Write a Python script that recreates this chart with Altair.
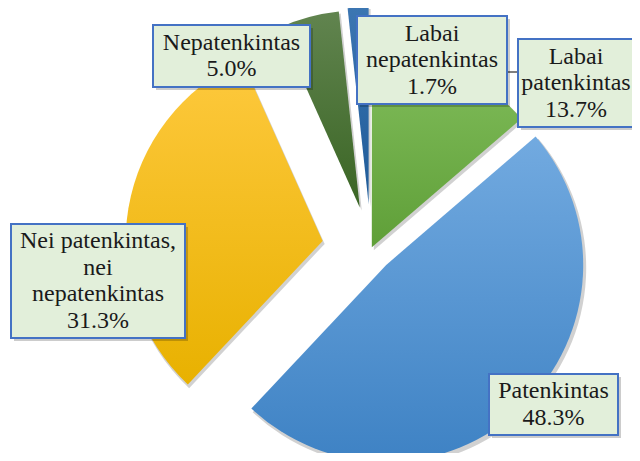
import altair as alt
import pandas as pd

# ---- data (clockwise from 12 o'clock) ----
categories = ["Labai patenkintas", "Patenkintas", "Nei patenkintas, nei nepatenkintas",
              "Nepatenkintas", "Labai nepatenkintas"]
shares = [13.7, 48.3, 31.3, 5.0, 1.7]

# ---- label text (manual line breaks, as in the original) ----
label_names = ["Labai\npatenkintas", "Patenkintas", "Nei patenkintas,\nnei\nnepatenkintas",
               "Nepatenkintas", "Labai\nnepatenkintas"]

# ---- style / layout ----
explode = [2, 22, 49, 43, 45]          # px each slice is pulled out
CX, CY, R = 363, 241, 197              # pie centre and radius (chart px)
FONT_SIZE, LINE_H = 24, 26.5
gradients = [
    ("#82be5c", "#5f9f38"),
    ("#72aae0", "#3e82c4"),
    ("#fec93e", "#e8b100"),
    ("#61844f", "#3a6524"),
    ("#3c76b2", "#1f5b98"),
]
# label boxes: x0, y0, x1, y1 (chart px)
boxes = [
    (510, 31, 640, 119),
    (481, 366, 610, 427),
    (3, 216, 177, 330),
    (145, 17, 302, 79),
    (349, 8, 499, 96),
]
# horizontal text centre of each label (chart px)
text_x = [568, 545.5, 90, 223.5, 424]

order = list(range(len(categories)))
pie_df = pd.DataFrame({"cat": categories, "share": shares, "ord": order, "explode": explode})

base = alt.Chart(pie_df).transform_window(
    cum="sum(share)", sort=[alt.SortField("ord")], frame=[None, 0]
).transform_joinaggregate(
    total="sum(share)"
).transform_calculate(
    t1="datum.cum / datum.total * 2 * PI",
    t0="(datum.cum - datum.share) / datum.total * 2 * PI",
).transform_calculate(
    mid="(datum.t0 + datum.t1) / 2"
).transform_calculate(
    cx=f"{CX} + datum.explode * sin(datum.mid)",
    cy=f"{CY} - datum.explode * cos(datum.mid)",
)

enc = dict(
    x=alt.X("cx:Q", scale=None, axis=None),
    y=alt.Y("cy:Q", scale=None, axis=None),
    theta=alt.Theta("t0:Q", scale=None),
    theta2="t1:Q",
)

shadow = base.transform_calculate(
    cx="datum.cx + 2", cy="datum.cy + 3"
).mark_arc(radius=R + 1, fill="#000000", opacity=0.18).encode(**enc)

slices = []
for i, (c0, c1) in enumerate(gradients):
    grad = {
        "gradient": "linear", "x1": 0, "y1": 0, "x2": 0, "y2": 1,
        "stops": [{"offset": 0, "color": c0}, {"offset": 1, "color": c1}],
    }
    slices.append(
        base.transform_filter(alt.datum.ord == i)
        .mark_arc(radius=R, fill=grad)
        .encode(**enc)
    )

box_df = pd.DataFrame({
    "cat": categories,
    "name": label_names,
    "nlines": [n.count("\n") + 2 for n in label_names],
    "share": shares,
    "tx": text_x,
    "x0": [b[0] for b in boxes], "y0": [b[1] for b in boxes],
    "x1": [b[2] for b in boxes], "y1": [b[3] for b in boxes],
})
bbase = alt.Chart(box_df).transform_calculate(
    label="datum.name + '\\n' + format(datum.share, '.1f') + '%'",
    ty=f"(datum.y0 + datum.y1) / 2 - (datum.nlines - 1) * {LINE_H} / 2",
    sx0="datum.x0 + 3", sx1="datum.x1 + 3", sy0="datum.y0 + 3", sy1="datum.y1 + 3",
)

box_shadow = bbase.mark_rect(fill="#000000", opacity=0.2).encode(
    x=alt.X("sx0:Q", scale=None, axis=None), x2="sx1:Q",
    y=alt.Y("sy0:Q", scale=None, axis=None), y2="sy1:Q",
)
box_rect = bbase.mark_rect(fill="#e2efda", stroke="#4472c4", strokeWidth=2).encode(
    x=alt.X("x0:Q", scale=None, axis=None), x2="x1:Q",
    y=alt.Y("y0:Q", scale=None, axis=None), y2="y1:Q",
)
box_text = bbase.mark_text(
    font="Liberation Serif, Times New Roman, serif", fontSize=FONT_SIZE,
    lineHeight=LINE_H, lineBreak="\n",
    align="center", baseline="middle", color="#1a1a1a",
).encode(
    x=alt.X("tx:Q", scale=None, axis=None),
    y=alt.Y("ty:Q", scale=None, axis=None),
    text="label:N",
)

# leader line between the two top-right labels
leader = bbase.transform_filter(alt.datum.cat == "Labai nepatenkintas").transform_calculate(
    ly="64"
).mark_rule(color="#000000", strokeWidth=1).encode(
    x=alt.X("x1:Q", scale=None, axis=None),
    x2=alt.value(510),
    y=alt.Y("ly:Q", scale=None, axis=None),
)

chart = alt.layer(shadow, *slices, leader, box_shadow, box_rect, box_text).properties(
    width=624, height=445,
    autosize=alt.AutoSizeParams(type="none"),
    padding=0,
).configure_view(stroke=None)

chart.save("out.html", embed_options={"renderer": "svg", "actions": False})
